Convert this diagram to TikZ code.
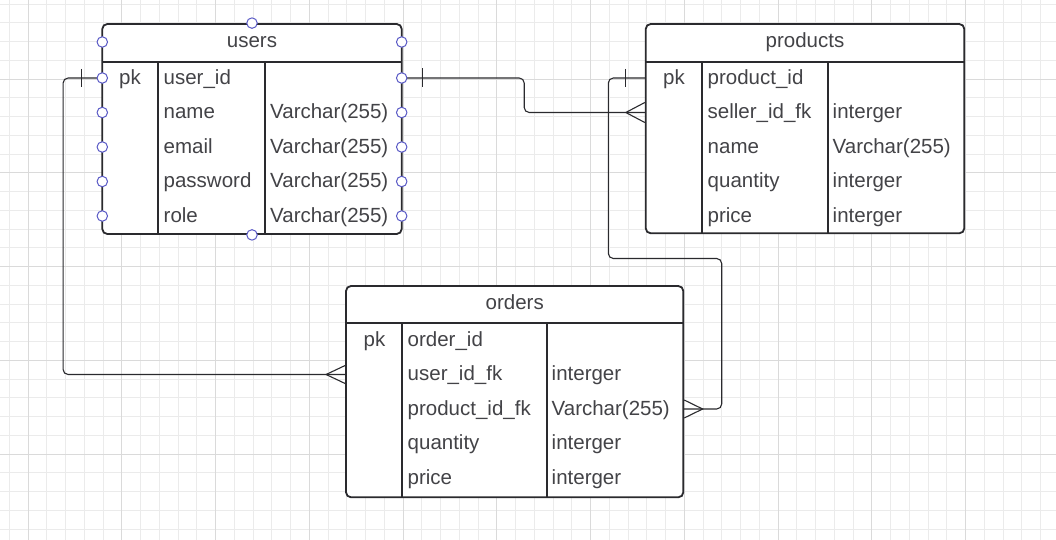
\documentclass[tikz,border=0pt]{standalone}
\usepackage{fontspec}
\setmainfont{Liberation Sans}
\usetikzlibrary{positioning}

\definecolor{ink}{HTML}{2A2A2E}
\definecolor{txt}{HTML}{434347}
\definecolor{gridminor}{HTML}{EBEBEB}
\definecolor{gridmajor}{HTML}{DADADA}
\definecolor{port}{HTML}{5A5AC6}

\begin{document}
\begin{tikzpicture}[x=1pt,y=-1pt,
    cell/.style={anchor=west,inner sep=0pt,text height=18pt,text depth=5.5pt,text=txt,font=\fontsize{20.5}{24}\selectfont},
    pkcell/.style={cell,anchor=center},
    tablehead/.style={cell,anchor=center},
    tablebox/.style={draw=ink,fill=white,line width=1.8pt,rounded corners=5pt,inner sep=0pt},
    rule/.style={draw=ink,line width=1.8pt},
    link/.style={draw=ink,line width=1.1pt,rounded corners=5pt},
    foot/.style={link,sharp corners},
    handle/.style={circle,draw=port,fill=white,line width=1pt,minimum size=10.5pt,inner sep=0pt}]
  \useasboundingbox[fill=white] (0,0) rectangle (1056,540);
  % background grid
  \foreach \gx in {0,...,55} \draw[gridminor] ({8.95+18.75*\gx},0) -- ++(0,540);
  \foreach \gy in {0,...,28} \draw[gridminor] (0,{3.75+18.75*\gy}) -- ++(1056,0);
  \foreach \gx in {0,...,10} \draw[gridmajor] ({27.7+93.75*\gx},0) -- ++(0,540);
  \foreach \gy in {0,...,4} \draw[gridmajor] (0,{78.75+93.75*\gy}) -- ++(1056,0);

  % tables
  \node (users)    [tablebox,minimum width=299.4pt,minimum height=210pt]   at (252,129)      {};
  \node (products) [tablebox,minimum width=318.6pt,minimum height=209.3pt] at (805,128.65)   {};
  \node (orders)   [tablebox,minimum width=337.3pt,minimum height=211.3pt] at (514.65,391.65) {};

  \draw[rule] (102.3,61.7) -- (401.7,61.7);
  \draw[rule] (158.3,61.7) -- (158.3,234) (265,61.7) -- (265,234);
  \draw[rule] (645.7,61.7) -- (964.3,61.7);
  \draw[rule] (701.7,61.7) -- (701.7,233.3) (827.7,61.7) -- (827.7,233.3);
  \draw[rule] (346,323.3) -- (683.3,323.3);
  \draw[rule] (402,323.3) -- (402,497.3) (546.7,323.3) -- (546.7,497.3);

  % users
  \node (uhead) [tablehead] at (252,41)     {users};
  \node (upk)   [pkcell]    at (130,78)     {pk};
  \node (u1)    [cell]      at (163.5,78)   {user\_id};
  \node (u2)    [cell]      at (163.5,112.5) {name};
  \node (u3)    [cell]      at (163.5,147)  {email};
  \node (u4)    [cell]      at (163.5,181.5) {password};
  \node (u5)    [cell]      at (163.5,216)  {role};
  \node (u2t)   [cell]      at (270,112.5)  {Varchar(255)};
  \node (u3t)   [cell]      at (270,147)    {Varchar(255)};
  \node (u4t)   [cell]      at (270,181.5)  {Varchar(255)};
  \node (u5t)   [cell]      at (270,216)    {Varchar(255)};

  % products
  \node (phead) [tablehead] at (805,41)     {products};
  \node (ppk)   [pkcell]    at (674,78)     {pk};
  \node (p1)    [cell]      at (707.5,78)   {product\_id};
  \node (p2)    [cell]      at (707.5,112.5) {seller\_id\_fk};
  \node (p3)    [cell]      at (707.5,147)  {name};
  \node (p4)    [cell]      at (707.5,181.5) {quantity};
  \node (p5)    [cell]      at (707.5,216)  {price};
  \node (p2t)   [cell]      at (832.5,112.5) {interger};
  \node (p3t)   [cell]      at (832.5,147)  {Varchar(255)};
  \node (p4t)   [cell]      at (832.5,181.5) {interger};
  \node (p5t)   [cell]      at (832.5,216)  {interger};

  % orders
  \node (ohead) [tablehead] at (514.7,303.5) {orders};
  \node (opk)   [pkcell]    at (374.5,340)  {pk};
  \node (o1)    [cell]      at (407.5,340)  {order\_id};
  \node (o2)    [cell]      at (407.5,374.5) {user\_id\_fk};
  \node (o3)    [cell]      at (407.5,409)  {product\_id\_fk};
  \node (o4)    [cell]      at (407.5,443.5) {quantity};
  \node (o5)    [cell]      at (407.5,478)  {price};
  \node (o2t)   [cell]      at (551.5,374.5) {interger};
  \node (o3t)   [cell]      at (551.5,409)  {Varchar(255)};
  \node (o4t)   [cell]      at (551.5,443.5) {interger};
  \node (o5t)   [cell]      at (551.5,478)  {interger};

  % relations
  \draw[link] (u1 -| users.west) -- ++(-38.3,0) |- (o2 -| orders.west);
  \draw[foot] (u1 -| users.west) ++(-19.5,-9) -- ++(0,18);
  \draw[foot] (o2 -| orders.west) ++(0,-9) -- ++(-19,9) -- ++(19,9);

  \draw[link] (u1 -| users.east) -- ++(121.6,0) |- (p2 -| products.west);
  \draw[foot] (u1 -| users.east) ++(20,-9.5) -- ++(0,19);
  \draw[foot] (p2 -| products.west) ++(0,-10) -- ++(-19,10) -- ++(19,10);

  \draw[link] (p1 -| products.west) -| (608.3,258.5) -| (721.7,409) -- (o3 -| orders.east);
  \draw[foot] (p1 -| products.west) ++(-19,-9) -- ++(0,18);
  \draw[foot] (o3 -| orders.east) ++(0,-9) -- ++(18.4,9) -- ++(-18.4,9);

  % selection handles on users
  \node (h1)  [handle] at (users.north) {};
  \node (h2)  [handle] at (users.south) {};
  \node (h3)  [handle] at (102.3,42)    {};
  \node (h4)  [handle] at (102.3,78)    {};
  \node (h5)  [handle] at (102.3,112.5) {};
  \node (h6)  [handle] at (102.3,147)   {};
  \node (h7)  [handle] at (102.3,181.5) {};
  \node (h8)  [handle] at (102.3,216)   {};
  \node (h9)  [handle] at (401.7,42)    {};
  \node (h10) [handle] at (401.7,78)    {};
  \node (h11) [handle] at (401.7,112.5) {};
  \node (h12) [handle] at (401.7,147)   {};
  \node (h13) [handle] at (401.7,181.5) {};
  \node (h14) [handle] at (401.7,216)   {};
\end{tikzpicture}
\end{document}
